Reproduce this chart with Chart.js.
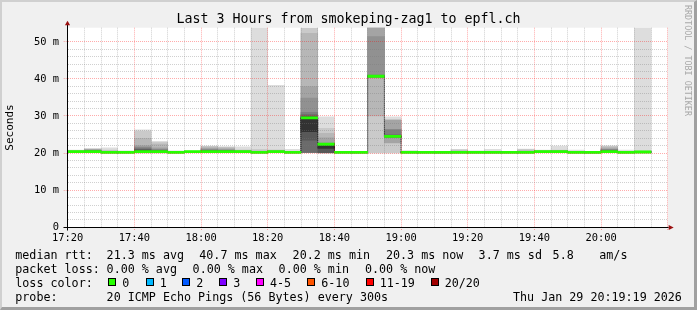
<!DOCTYPE html>
<html>
<head>
<meta charset="utf-8">
<script src="https://cdn.jsdelivr.net/npm/chart.js@4.4.1/dist/chart.umd.min.js"></script>
<style>
  html, body { margin: 0; padding: 0; background: #f0f0f0; }
  #wrap { position: relative; width: 697px; height: 310px; background: #f0f0f0; overflow: hidden;
          font-family: 'DejaVu Sans Mono', monospace; color: #000; }
  #frame { position: absolute; left: 0; top: 0; width: 697px; height: 310px; box-sizing: border-box;
           border-top: 2px solid #d0d0d0; border-left: 2px solid #d0d0d0;
           border-bottom: 3px solid #a0a0a0; border-right: 3px solid #a0a0a0; }
  canvas { position: absolute; left: 0; top: 0; }
  .t { position: absolute; font-size: 11.7px; line-height: 11.7px; white-space: pre; }
  .box { position: absolute; width: 6px; height: 6px; border: 1px solid #000; }
  #credit { position: absolute; left: 683px; top: 5px; font-size: 8.4px; line-height: 9px;
            color: #a8a8a8; writing-mode: vertical-rl; white-space: pre; }
</style>
</head>
<body>
<div id="wrap">
  <div id="frame"></div>
  <canvas id="chart" width="697" height="310"></canvas>
  <div id="credit">RRDTOOL / TOBI OETIKER</div>
</div>
<script>
// axis labels
var timeLabels = ['17:20', '17:40', '18:00', '18:20', '18:40', '19:00', '19:20', '19:40', '20:00'];
var yLabels = ['0', '10 m', '20 m', '30 m', '40 m', '50 m'];

// median rtt per 5 minute step (ms), 17:20 .. 20:10
var medians = [20.4, 20.4, 20.2, 20.2, 20.4, 20.4, 20.2, 20.4, 20.4, 20.4, 20.4, 20.2,
               20.4, 20.2, 29.5, 22.4, 20.2, 20.2, 40.7, 24.5, 20.2, 20.2, 20.2, 20.2,
               20.2, 20.2, 20.2, 20.2, 20.4, 20.4, 20.2, 20.2, 20.4, 20.2, 20.3];

// the 20 sorted pings of every step (ms), they make the smoke
var pings = [
  [20.1,20.2,20.2,20.3,20.3,20.3,20.4,20.4,20.4,20.4,20.4,20.4,20.5,20.5,20.5,20.5,20.6,20.6,20.7,20.8],
  [20.1,20.2,20.3,20.3,20.3,20.4,20.4,20.4,20.4,20.4,20.4,20.5,20.5,20.6,20.7,20.8,20.9,21.0,21.1,21.3],
  [20.0,20.1,20.1,20.1,20.2,20.2,20.2,20.2,20.2,20.2,20.2,20.2,20.3,20.3,20.3,20.4,20.5,20.6,20.8,21.4],
  [20.0,20.1,20.1,20.1,20.1,20.2,20.2,20.2,20.2,20.2,20.2,20.2,20.2,20.2,20.3,20.3,20.3,20.3,20.4,20.6],
  [20.0,20.1,20.2,20.2,20.3,20.3,20.3,20.3,20.4,20.4,20.4,20.7,20.9,21.1,21.4,21.7,22.0,24.0,25.9,26.3],
  [20.0,20.1,20.2,20.2,20.3,20.3,20.3,20.3,20.4,20.4,20.4,20.5,20.6,20.7,20.9,21.1,21.4,22.4,23.0,23.1],
  [20.0,20.1,20.1,20.1,20.2,20.2,20.2,20.2,20.2,20.2,20.2,20.2,20.2,20.3,20.3,20.3,20.3,20.4,20.4,20.6],
  [20.2,20.2,20.3,20.3,20.3,20.3,20.4,20.4,20.4,20.4,20.4,20.4,20.4,20.4,20.5,20.5,20.5,20.5,20.5,20.6],
  [20.1,20.2,20.2,20.3,20.3,20.3,20.3,20.4,20.4,20.4,20.4,20.5,20.6,20.7,20.8,21.0,21.3,21.6,21.8,21.9],
  [20.1,20.2,20.2,20.3,20.3,20.3,20.3,20.4,20.4,20.4,20.4,20.5,20.6,20.6,20.7,20.9,21.1,21.4,21.6,21.7],
  [20.1,20.2,20.2,20.3,20.3,20.3,20.4,20.4,20.4,20.4,20.4,20.4,20.5,20.5,20.5,20.6,20.6,20.7,20.9,21.7],
  [20.0,20.1,20.1,20.1,20.2,20.2,20.2,20.2,20.2,20.2,20.2,20.2,20.3,20.3,20.3,20.4,20.5,20.6,21.0,62.0],
  [20.1,20.2,20.2,20.3,20.3,20.3,20.4,20.4,20.4,20.4,20.4,20.4,20.5,20.5,20.5,20.6,20.6,20.7,20.9,38.3],
  [20.0,20.1,20.1,20.1,20.2,20.2,20.2,20.2,20.2,20.2,20.2,20.2,20.3,20.3,20.3,20.3,20.3,20.4,20.5,21.0],
  [20.1,20.1,20.1,20.2,20.2,20.2,20.2,23.5,25.8,25.8,29.5,29.7,29.9,30.4,31.0,34.8,37.9,52.3,53.6,58.0],
  [20.0,20.0,20.1,20.1,20.1,20.1,20.1,20.1,21.2,21.3,22.4,22.5,22.5,22.6,22.6,22.7,24.1,25.3,26.7,29.8],
  [20.0,20.1,20.1,20.1,20.1,20.2,20.2,20.2,20.2,20.2,20.2,20.2,20.2,20.2,20.3,20.3,20.3,20.3,20.3,20.4],
  [20.0,20.0,20.1,20.1,20.1,20.1,20.2,20.2,20.2,20.2,20.2,20.2,20.2,20.2,20.2,20.3,20.3,20.3,20.3,20.4],
  [20.0,20.1,30.0,40.3,40.4,40.5,40.5,40.6,40.6,40.7,40.7,40.8,40.8,40.9,41.0,51.4,56.0,58.0,60.0,62.0],
  [20.0,20.1,22.7,22.8,24.2,24.3,24.3,24.4,24.4,24.5,24.5,24.6,24.7,24.9,26.3,26.4,28.9,28.9,28.9,29.8],
  [20.0,20.1,20.1,20.1,20.2,20.2,20.2,20.2,20.2,20.2,20.2,20.2,20.2,20.3,20.3,20.3,20.3,20.4,20.5,20.7],
  [20.0,20.1,20.1,20.1,20.1,20.2,20.2,20.2,20.2,20.2,20.2,20.2,20.2,20.2,20.3,20.3,20.3,20.3,20.3,20.4],
  [20.0,20.0,20.1,20.1,20.1,20.2,20.2,20.2,20.2,20.2,20.2,20.2,20.2,20.2,20.2,20.3,20.3,20.3,20.3,20.4],
  [20.0,20.1,20.1,20.1,20.2,20.2,20.2,20.2,20.2,20.2,20.2,20.2,20.3,20.3,20.3,20.4,20.5,20.6,20.9,21.0],
  [20.0,20.1,20.1,20.1,20.1,20.2,20.2,20.2,20.2,20.2,20.2,20.2,20.2,20.3,20.3,20.3,20.3,20.4,20.4,20.6],
  [20.0,20.1,20.1,20.1,20.2,20.2,20.2,20.2,20.2,20.2,20.2,20.2,20.2,20.3,20.3,20.3,20.3,20.4,20.5,21.0],
  [20.0,20.1,20.1,20.1,20.1,20.2,20.2,20.2,20.2,20.2,20.2,20.2,20.2,20.2,20.3,20.3,20.3,20.3,20.3,20.4],
  [20.0,20.1,20.1,20.1,20.2,20.2,20.2,20.2,20.2,20.2,20.2,20.2,20.3,20.3,20.3,20.4,20.5,20.7,21.0,21.1],
  [20.1,20.2,20.2,20.3,20.3,20.3,20.4,20.4,20.4,20.4,20.4,20.4,20.5,20.5,20.5,20.5,20.6,20.6,20.7,20.8],
  [20.1,20.2,20.2,20.3,20.3,20.3,20.4,20.4,20.4,20.4,20.4,20.4,20.5,20.5,20.5,20.6,20.6,20.7,20.8,21.9],
  [20.0,20.1,20.1,20.1,20.2,20.2,20.2,20.2,20.2,20.2,20.2,20.2,20.2,20.3,20.3,20.3,20.3,20.4,20.5,20.8],
  [20.0,20.0,20.1,20.1,20.1,20.1,20.2,20.2,20.2,20.2,20.2,20.2,20.2,20.2,20.3,20.3,20.3,20.3,20.3,20.4],
  [20.1,20.2,20.2,20.3,20.3,20.3,20.3,20.4,20.4,20.4,20.4,20.5,20.6,20.7,20.9,21.0,21.2,21.6,21.9,21.9],
  [20.0,20.1,20.1,20.1,20.2,20.2,20.2,20.2,20.2,20.2,20.2,20.2,20.2,20.3,20.3,20.3,20.3,20.4,20.5,20.8],
  [20.0,20.1,20.1,20.2,20.2,20.2,20.2,20.3,20.3,20.3,20.3,20.3,20.3,20.3,20.4,20.4,20.4,20.5,20.6,60.0]
];

// legend texts
var rttStats = ['median rtt:', '21.3 ms avg', '40.7 ms max', '20.2 ms min', '20.3 ms now', '3.7 ms sd', '5.8', 'am/s'];
var lossStats = ['packet loss:', '0.00 % avg', '0.00 % max', '0.00 % min', '0.00 % now'];
var lossLabels = ['0', '1', '2', '3', '4-5', '6-10', '11-19', '20/20'];
var lossColors = ['#26ff00', '#00b8ff', '#0059ff', '#7e00ff', '#ff00ff', '#ff5500', '#ff0000', '#a10000'];
var probeInfo = ['probe:', '20 ICMP Echo Pings (56 Bytes) every 300s', 'Thu Jan 29 20:19:19 2026'];

var FONT = "'DejaVu Sans Mono', monospace";
var STEP = 5; // minutes per step

// legend below the graph
var wrap = document.getElementById('wrap');
var rowTop = [250.4, 264.4, 278.4, 292.1];
function put(text, x, row) {
  var d = document.createElement('div');
  d.className = 't';
  d.textContent = text;
  d.style.left = x + 'px';
  d.style.top = rowTop[row] + 'px';
  wrap.appendChild(d);
}
[15.3, 106.6, 199.3, 292.6, 386, 478.6, 552.6, 599.3].forEach(function (x, i) { put(rttStats[i], x, 0); });
[15.3, 106.6, 192.6, 278.6, 365].forEach(function (x, i) { put(lossStats[i], x, 1); });
put('loss color:', 15.3, 2);
[108.3, 145.7, 182.3, 219.3, 256, 307.3, 365.7, 430.7].forEach(function (x, i) {
  var b = document.createElement('div');
  b.className = 'box';
  b.style.left = x + 'px';
  b.style.top = '278.3px';
  b.style.background = lossColors[i];
  wrap.appendChild(b);
  put(lossLabels[i], x + 14, 2);
});
[15.3, 106.6, 513].forEach(function (x, i) { put(probeInfo[i], x, 3); });

// smoke: layer i spans ping i .. ping 21-i, darker towards the median
var shades = [221, 202, 183, 164, 145, 126, 107, 88, 69, 50];
var datasets = shades.map(function (g, i) {
  return {
    type: 'bar',
    data: pings.map(function (p, k) { return { x: k * STEP + STEP / 2, y: [p[i], p[19 - i]] }; }),
    backgroundColor: 'rgb(' + g + ',' + g + ',' + g + ')',
    borderWidth: 0,
    grouped: false,
    barPercentage: 1,
    categoryPercentage: 1,
    order: 20 - i,
    clip: 0
  };
});

// black dotted steps of the median
var steps = medians.map(function (m, k) { return { x: k * STEP, y: m }; });
steps.push({ x: medians.length * STEP, y: medians[medians.length - 1] });
datasets.push({
  type: 'line',
  data: steps,
  stepped: true,
  borderColor: '#000',
  borderWidth: 1,
  borderDash: [1, 1],
  pointRadius: 0,
  order: 2,
  clip: 0
});

// green median (0 % loss)
datasets.push({
  type: 'bar',
  data: medians.map(function (m, k) { return { x: k * STEP + STEP / 2, y: [m - 0.3, m + 0.3] }; }),
  backgroundColor: lossColors[0],
  borderWidth: 0,
  grouped: false,
  barPercentage: 1,
  categoryPercentage: 1,
  order: 1,
  clip: 0
});

function isMult(v, n) { return Math.abs(v / n - Math.round(v / n)) < 1e-6; }
var RED = 'rgba(255,0,0,0.33)';
var GREY = 'rgba(120,120,120,0.35)';

var frame = {
  id: 'frame',
  beforeDraw: function (chart) {
    var a = chart.chartArea, ctx = chart.ctx;
    ctx.save();
    ctx.fillStyle = '#fff';
    ctx.fillRect(a.left, a.top, a.right - a.left, a.bottom - a.top);
    ctx.restore();
  },
  afterDraw: function (chart) {
    var a = chart.chartArea, ctx = chart.ctx;
    var x0 = Math.round(a.left) - 0.5, y0 = Math.round(a.bottom) + 0.5;
    ctx.save();
    ctx.strokeStyle = '#000';
    ctx.lineWidth = 1;
    ctx.beginPath();
    ctx.moveTo(x0, y0 + 3); ctx.lineTo(x0, a.top - 3);
    ctx.moveTo(x0 - 4, y0); ctx.lineTo(a.right + 1, y0);
    ctx.stroke();
    ctx.fillStyle = '#9b1010';
    ctx.beginPath();
    ctx.moveTo(x0, a.top - 7); ctx.lineTo(x0 - 2.6, a.top - 2.5); ctx.lineTo(x0 + 2.6, a.top - 2.5);
    ctx.closePath(); ctx.fill();
    ctx.beginPath();
    ctx.moveTo(a.right + 6, y0); ctx.lineTo(a.right + 1, y0 - 2.6); ctx.lineTo(a.right + 1, y0 + 2.6);
    ctx.closePath(); ctx.fill();
    ctx.restore();
  }
};

new Chart(document.getElementById('chart'), {
  type: 'bar',
  data: { datasets: datasets },
  plugins: [frame],
  options: {
    responsive: false,
    devicePixelRatio: 1,
    animation: false,
    events: [],
    layout: { padding: 0 },
    plugins: {
      legend: { display: false },
      tooltip: { enabled: false },
      title: {
        display: true,
        text: 'Last 3 Hours from smokeping-zag1 to epfl.ch',
        color: '#000',
        font: { family: FONT, size: 13.3, weight: 'normal', lineHeight: 1 },
        padding: { top: 12.7, bottom: 1.7 }
      }
    },
    scales: {
      x: {
        type: 'linear',
        min: 0,
        max: 180,
        offset: false,
        afterFit: function (s) { s.height = 82.7; },
        ticks: {
          stepSize: 5,
          autoSkip: false,
          maxRotation: 0,
          padding: 2,
          color: '#000',
          font: { family: FONT, size: 10.4 },
          callback: function (v) { return (isMult(v, 20) && v < 180) ? timeLabels[Math.round(v / 20)] : ''; }
        },
        grid: {
          z: 1,
          offset: false,
          lineWidth: 1,
          color: function (c) { return isMult(c.tick.value, 20) ? RED : GREY; },
          tickColor: function (c) { return isMult(c.tick.value, 20) ? RED : 'rgba(0,0,0,0)'; },
          tickLength: 3,
          tickBorderDash: [1, 1]
        },
        border: { display: false, dash: [1, 1] }
      },
      y: {
        type: 'linear',
        min: 0,
        max: 53.8,
        afterFit: function (s) { s.width = 67.7; },
        ticks: {
          stepSize: 2,
          autoSkip: false,
          padding: 4.7,
          color: '#000',
          font: { family: FONT, size: 10.4 },
          callback: function (v) { return isMult(v, 10) ? yLabels[Math.round(v / 10)] : ''; }
        },
        grid: {
          z: 1,
          lineWidth: 1,
          color: function (c) {
            var v = c.tick.value;
            if (!isMult(v, 2)) return 'rgba(0,0,0,0)';
            return isMult(v, 10) ? RED : GREY;
          },
          tickColor: function (c) { return isMult(c.tick.value, 10) ? RED : 'rgba(0,0,0,0)'; },
          tickLength: 4,
          tickBorderDash: [1, 1]
        },
        border: { display: false, dash: [1, 1] },
        title: {
          display: true,
          text: 'Seconds',
          color: '#000',
          font: { family: FONT, size: 11 },
          padding: { top: 3.6, bottom: 0 }
        }
      },
      yR: {
        position: 'right',
        display: true,
        afterFit: function (s) { s.width = 29.3; },
        ticks: { display: false },
        grid: { display: false, drawTicks: false },
        border: { display: false }
      }
    }
  }
});
</script>
</body>
</html>
